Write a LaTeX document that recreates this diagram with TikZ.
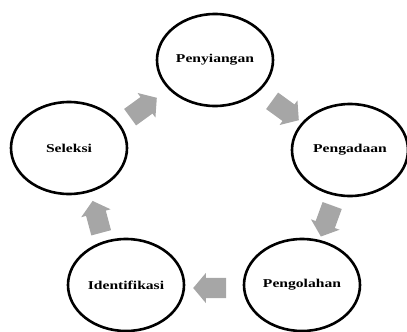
\documentclass[tikz,border=0pt]{standalone}
\usepackage{fontspec}
\newfontfamily\lblfont[FakeStretch=1.3]{Liberation Serif}
\usetikzlibrary{shapes.geometric,shapes.arrows}
\definecolor{arrowgray}{HTML}{A6A6A6}
\tikzset{
  stage/.style={draw=black, line width=2.6pt, ellipse, minimum width=116pt, minimum height=92pt, inner sep=0pt,
    font=\lblfont\bfseries\fontsize{12}{14}\selectfont},
  cyclearrow/.style={single arrow, fill=arrowgray, draw=none, minimum height=33pt,
    inner xsep=0pt, inner ysep=10pt, single arrow head extend=5pt, single arrow tip angle=100}
}
\begin{document}
\begin{tikzpicture}[x=1pt,y=-1pt]
\useasboundingbox (0,0) rectangle (407,332);
\node[stage] (peny) at (215,60) {Penyiangan};
\node[stage] (peng) at (350,150) {Pengadaan};
\node[stage] (sel) at (69,148) {Seleksi};
\node[stage] (ident) at (126,285) {Identifikasi};
\node[stage] (olah) at (302,285) {Pengolahan};
\node[cyclearrow, rotate=36] (a1) at (140,110) {};
\node[cyclearrow, rotate=-36] (a2) at (282,108) {};
\node[cyclearrow, rotate=-110] (a3) at (328,217) {};
\node[cyclearrow, rotate=180] (a4) at (214,288) {};
\node[cyclearrow, rotate=105] (a5) at (98,221) {};
\end{tikzpicture}
\end{document}
